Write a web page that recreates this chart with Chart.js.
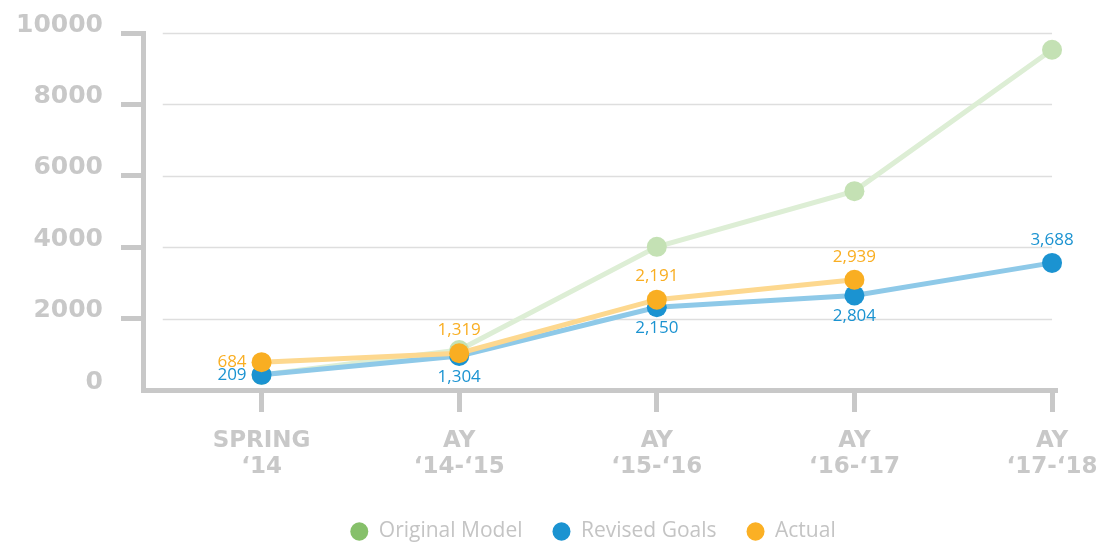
<!DOCTYPE html>
<html>
<head>
<meta charset="utf-8">
<script src="https://cdn.jsdelivr.net/npm/chart.js@4"></script>
<style>
  html, body { margin: 0; padding: 0; background: #fff; }
  #wrap { width: 1098px; height: 542px; }
</style>
</head>
<body>
<div id="wrap"><canvas id="myChart" width="1098" height="542"></canvas></div>
<script>
// x categories (two-line labels)
var categories = [["SPRING", "\u201814"], ["AY", "\u201814-\u201815"], ["AY", "\u201815-\u201816"], ["AY", "\u201816-\u201817"], ["AY", "\u201817-\u201818"]];
var yTicks = [0, 2000, 4000, 6000, 8000, 10000];

// plotted values
var originalModel = [420, 1120, 4010, 5570, 9530];
var revisedGoals = [425, 955, 2317, 2650, 3560];
var actual = [779, 1029, 2531, 3088, null];

// printed data labels
var revisedLabels = ["209", "1,304", "2,150", "2,804", "3,688"];
var actualLabels = ["684", "1,319", "2,191", "2,939", null];

var AXIS = '#c8c8c8';

function toPoints(arr) {
	var out = [];
	for (var i = 0; i < arr.length; i++) {
		if (arr[i] != null) out.push({x: i, y: arr[i]});
	}
	return out;
}

// light gridlines that start a bit right of the y axis
var gridPlugin = {
	id: 'softGrid',
	beforeDatasetsDraw: function(chart) {
		var ctx = chart.ctx, x = chart.scales.x, y = chart.scales.y;
		ctx.save();
		ctx.strokeStyle = '#dedede';
		ctx.lineWidth = 1.5;
		yTicks.forEach(function(v) {
			if (v === 0) return;
			var py = Math.round(y.getPixelForValue(v)) + 0.5;
			ctx.beginPath();
			ctx.moveTo(x.getPixelForValue(-0.5), py);
			ctx.lineTo(x.getPixelForValue(4), py);
			ctx.stroke();
		});
		ctx.restore();
	}
};

// value labels next to the points
var labelPlugin = {
	id: 'valueLabels',
	afterLayout: function(chart) {
		// legend sits a bit lower and right of the default spot
		chart.legend.top += 10;
		chart.legend.bottom += 10;
		chart.legend.left += 44;
		chart.legend.right += 44;
	},
	afterDatasetsDraw: function(chart) {
		var ctx = chart.ctx;
		ctx.save();
		ctx.font = '17px "Open Sans"';
		chart.data.datasets.forEach(function(ds, di) {
			if (!ds.valueLabels) return;
			var meta = chart.getDatasetMeta(di);
			meta.data.forEach(function(pt, i) {
				var txt = ds.valueLabels[i];
				if (!txt) return;
				ctx.fillStyle = ds.pointBackgroundColor;
				ctx.textBaseline = 'middle';
				if (i === 0) {
					ctx.textAlign = 'right';
					ctx.fillText(txt, pt.x - 15, pt.y);
				} else {
					ctx.textAlign = 'center';
					var up = ds.labelSide === 'above' || i === meta.data.length - 1 && ds.label === 'Revised Goals';
					ctx.fillText(txt, pt.x, up ? pt.y - 23 : pt.y + 21);
				}
			});
		});
		ctx.restore();
	}
};

var legendColors = ['#86c06a', '#1b93d1', '#fbb024'];

new Chart(document.getElementById('myChart'), {
	type: 'line',
	data: {
		datasets: [{
			label: 'Original Model',
			data: toPoints(originalModel),
			borderColor: '#ddeed5',
			pointBackgroundColor: '#c4e1b4',
			order: 2
		}, {
			label: 'Revised Goals',
			data: toPoints(revisedGoals),
			borderColor: '#8ec9e8',
			pointBackgroundColor: '#1b93d1',
			valueLabels: revisedLabels,
			labelSide: 'below',
			order: 1
		}, {
			label: 'Actual',
			data: toPoints(actual),
			borderColor: '#fdd88f',
			pointBackgroundColor: '#f9ae22',
			valueLabels: actualLabels,
			labelSide: 'above',
			order: 0
		}]
	},
	options: {
		responsive: false,
		animation: false,
		layout: { padding: { left: 0, right: 0, top: 28, bottom: 0 } },
		elements: {
			line: { borderWidth: 5, tension: 0 },
			point: { radius: 10, hoverRadius: 10, borderWidth: 0 }
		},
		datasets: { line: { clip: false } },
		scales: {
			x: {
				type: 'linear',
				min: -0.6,
				max: 4.015,
				afterBuildTicks: function(s) {
					s.ticks = categories.map(function(c, i) { return {value: i}; });
				},
				afterFit: function(s) {
					s.height = 91;
					s.paddingRight = 43;
				},
				ticks: {
					callback: function(v) { return categories[v]; },
					font: { family: '"DejaVu Sans"', size: 23, weight: 'bold', lineHeight: 1.13 },
					color: AXIS,
					padding: 16,
					maxRotation: 0
				},
				grid: { drawOnChartArea: false, tickLength: 22, lineWidth: 5, color: AXIS },
				border: { color: AXIS, width: 5 }
			},
			y: {
				min: 0,
				max: 10000,
				afterBuildTicks: function(s) {
					s.ticks = yTicks.map(function(v) { return {value: v}; });
				},
				afterFit: function(s) { s.width = 143; },
				ticks: {
					callback: function(v) { return String(v); },
					font: { family: '"DejaVu Sans"', size: 25, weight: 'bold' },
					color: AXIS,
					padding: 18,
					labelOffset: -8
				},
				grid: {
					drawOnChartArea: false,
					tickLength: 22,
					lineWidth: 5,
					color: function(c) { return c.tick && c.tick.value === 0 ? 'rgba(0,0,0,0)' : AXIS; }
				},
				border: { color: AXIS, width: 5 }
			}
		},
		plugins: {
			tooltip: { enabled: false },
			legend: {
				position: 'bottom',
				labels: {
					usePointStyle: true,
					pointStyle: 'circle',
					boxHeight: 13,
					pointStyleWidth: 18,
					padding: 30,
					color: '#c4c4c4',
					font: { family: '"Open Sans"', size: 21 },
					sort: function(a, b) { return a.datasetIndex - b.datasetIndex; },
					generateLabels: function(chart) {
						var items = Chart.defaults.plugins.legend.labels.generateLabels(chart);
						items.forEach(function(it) {
							it.fillStyle = legendColors[it.datasetIndex];
							it.strokeStyle = legendColors[it.datasetIndex];
							it.lineWidth = 0;
						});
						return items;
					}
				}
			}
		}
	},
	plugins: [gridPlugin, labelPlugin]
});
</script>
</body>
</html>
